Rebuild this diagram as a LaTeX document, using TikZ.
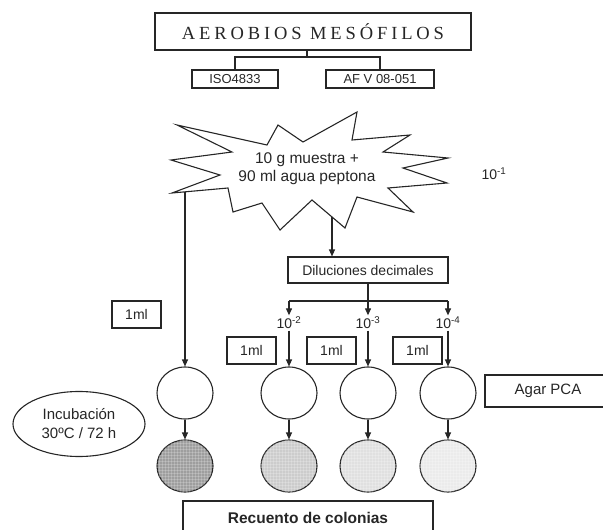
\documentclass[tikz,border=0pt]{standalone}
\usepackage{fontspec}
\setmainfont{Liberation Sans}
\newfontfamily\titulofont{Liberation Serif}[LetterSpace=21]
\usetikzlibrary{arrows.meta, shapes.geometric, patterns, positioning}

\tikzset{
  caja/.style={draw, rectangle, inner sep=0pt},
  placa/.style={draw, ellipse, minimum width=56pt, minimum height=52pt, inner sep=0pt},
  flecha/.style={-{Triangle[length=7pt,width=6pt]}},
  rayado/.style={postaction={pattern=grid, pattern color=white, opacity=0.2}},
}

\begin{document}
\begin{tikzpicture}[x=1pt, y=-1pt, line width=1.1pt, color=black!85,
    font=\fontsize{14}{16}\selectfont]
  \useasboundingbox (0,0) rectangle (603,530);

  % cabecera
  \node[caja, minimum width=316pt, minimum height=37pt,
    font=\titulofont\fontsize{18.5}{20}\selectfont]
    (titulo) at (313,31.5) {AEROBIOS MESÓFILOS};
  \node[caja, minimum width=86pt, minimum height=18pt, font=\fontsize{13}{15}\selectfont]
    (iso) at (235,79) {ISO4833};
  \node[caja, minimum width=108pt, minimum height=18pt, font=\fontsize{13}{15}\selectfont]
    (afv) at (380,79) {AF V 08-051};
  \coordinate (tee) at (307,57);
  \draw (titulo.south -| tee) -- (tee);
  \draw (tee) -| (iso.north);
  \draw (tee) -| (afv.north);

  % muestra
  \draw (177,125) -- (267,145) -- (278,125) -- (303,142) -- (357,112)
    -- (352,140) -- (410,135) -- (383,152) -- (448,158) -- (403,168)
    -- (447,183) -- (388,188) -- (413,212) -- (357,197) -- (345,228)
    -- (312,200) -- (280,230) -- (262,203) -- (233,212) -- (228,188)
    -- (172,193) -- (220,175) -- (171,160) -- (232,152) -- cycle;
  \node[align=center, font=\fontsize{15.5}{18}\selectfont]
    (muestra) at (307,169) {10 g muestra +\\90 ml agua peptona};
  \node (diez1) at (494,174) {10\textsuperscript{-1}};
  \coordinate (salidaA) at (185,192);
  \coordinate (salidaB) at (332,217);

  % diluciones
  \node[caja, minimum width=160pt, minimum height=26pt] (dil) at (368,270)
    {Diluciones decimales};
  \draw[flecha] (salidaB) -- (salidaB |- dil.north);
  \coordinate (ramal) at (368,301);
  \node[inner sep=1pt] (d2) at (289,323) {10\textsuperscript{-2}};
  \node[inner sep=1pt] (d3) at (368,323) {10\textsuperscript{-3}};
  \node[inner sep=1pt] (d4) at (448,323) {10\textsuperscript{-4}};
  \draw (dil.south) -- (ramal);
  \draw (d2.north |- ramal) -- (d4.north |- ramal);
  \foreach \i in {2,3,4}
    \draw[flecha] (d\i.north |- ramal) -- (d\i.north);

  % volumenes
  \node[caja, minimum width=49pt, minimum height=27pt] (ml1) at (136.5,314.5) {1ml};
  \node[caja, minimum width=49pt, minimum height=27pt] (ml2) at (251.5,350.5) {1ml};
  \node[caja, minimum width=49pt, minimum height=27pt] (ml3) at (331.5,350.5) {1ml};
  \node[caja, minimum width=49pt, minimum height=27pt] (ml4) at (417.5,350.5) {1ml};

  % placas
  \node[placa] (p1) at (185,393) {};
  \node[placa] (p2) at (289,393) {};
  \node[placa] (p3) at (368,393) {};
  \node[placa] (p4) at (448,393) {};
  \node[placa, fill=black!38, rayado] (c1) at (185,466) {};
  \node[placa, fill=black!20, rayado] (c2) at (289,466) {};
  \node[placa, fill=black!12, rayado] (c3) at (368,466) {};
  \node[placa, fill=black!8, rayado] (c4) at (448,466) {};
  \draw[flecha] (salidaA) -- (salidaA |- p1.north);
  \foreach \i in {2,3,4}
    \draw[flecha] (d\i.south) -- (p\i.north);
  \foreach \i in {1,...,4}
    \draw[flecha] (p\i.south) -- (c\i.north);

  \node[draw, ellipse, minimum width=132pt, minimum height=65pt, inner sep=0pt,
    align=center, font=\fontsize{15}{19}\selectfont]
    (incub) at (79,424) {Incubación\\30ºC / 72 h};
  \node[caja, minimum width=126pt, minimum height=32pt, font=\fontsize{15}{17}\selectfont]
    (agar) at (548,391) {Agar PCA};
  \node[caja, minimum width=250pt, minimum height=34pt,
    font=\bfseries\fontsize{15.5}{18}\selectfont]
    (recuento) at (308,518) {Recuento de colonias};
\end{tikzpicture}
\end{document}
